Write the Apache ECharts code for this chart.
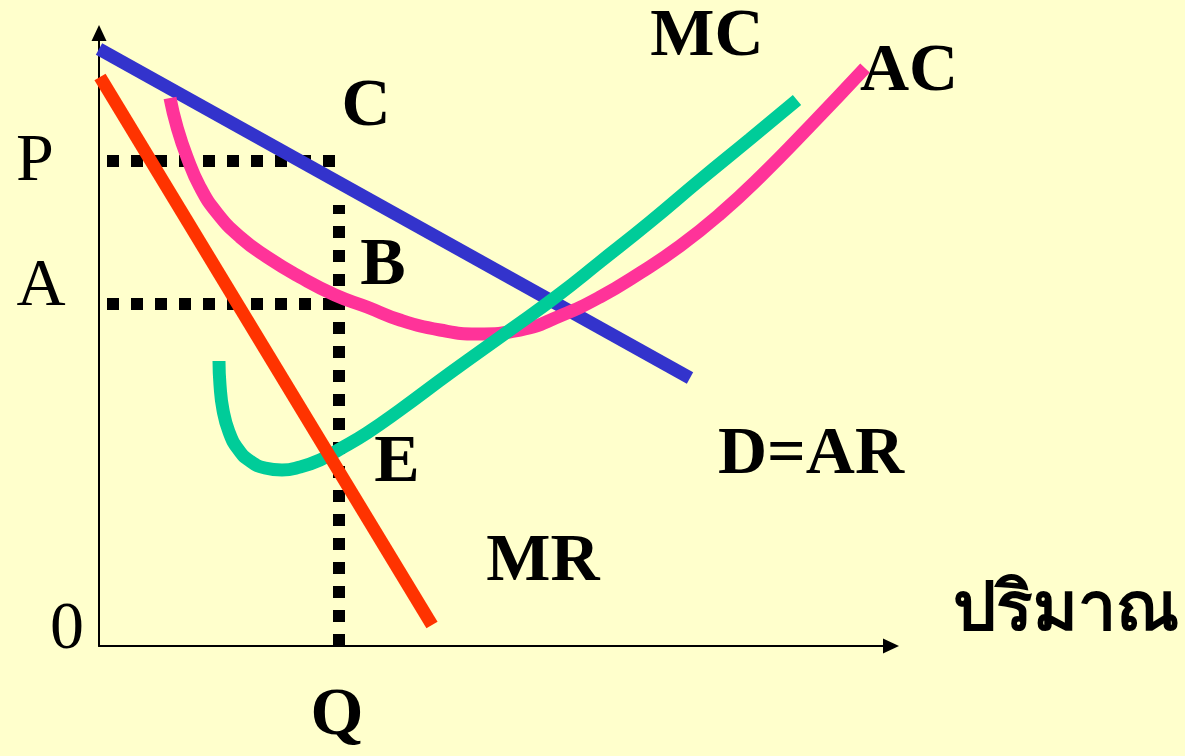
<!DOCTYPE html>
<html>
<head>
<meta charset="utf-8">
<title>Monopoly equilibrium</title>
<script src="https://cdn.jsdelivr.net/npm/echarts@6/dist/echarts.min.js"></script>
<style>
  html, body { margin: 0; padding: 0; background: #ffffcc; }
  #chart-container { width: 1185px; height: 756px; }
</style>
</head>
<body>
<div id="chart-container"></div>
<script>
// values are in axis units (origin = 0 at bottom-left corner of the axes)
const demandAR = [[0, 597], [591, 268]];
const marginalRevenue = [[1, 569], [333, 21]];
const averageCost = [
  [71, 548], [78, 519], [88, 489], [101, 459], [118, 433], [141, 409],
  [168, 389], [201, 369], [236, 351], [268, 339], [301, 326], [341, 316],
  [378, 312], [421, 316], [461, 330], [501, 349], [541, 373], [581, 400],
  [621, 432], [661, 469], [713, 522], [766, 578]
];
const marginalCost = [
  [120, 285], [121, 261], [124, 236], [130, 214], [139, 197], [151, 185],
  [166, 178], [183, 176], [201, 179], [221, 186], [241, 197], [268, 213],
  [301, 236], [351, 273], [411, 316], [458, 350], [501, 384], [551, 424],
  [601, 466], [651, 507], [698, 546]
];

const priceLevel = 485;   // P
const costLevel = 342;    // A
const outputLevel = 240;  // Q
const guideStart = 8;
const guideEnd = 238;
const guideTop = 441;

const tickLabels = ["P", "A", "0", "Q"];
const curveLabels = ["C", "B", "E", "MC", "AC", "D=AR", "MR", "ปริมาณ"];

const xMax = 792;
const yMax = 613;

const dom = document.getElementById("chart-container");
const myChart = echarts.init(dom, null, { renderer: "canvas" });

const serif = "'Liberation Serif', 'Times New Roman', serif";
const thai = "Kinnari, Norasi, 'Liberation Serif', serif";

function guide(data) {
  return {
    type: "line",
    data: data,
    symbol: "none",
    silent: true,
    lineStyle: { color: "#000", width: 12, type: [12, 12], cap: "butt" },
  };
}

function curve(name, data, color, smooth) {
  return {
    name: name,
    type: "line",
    data: data,
    symbol: "none",
    smooth: smooth,
    silent: true,
    lineStyle: { color: color, width: 13, cap: "butt" },
  };
}

function label(text, x, y, bold, family) {
  return {
    type: "text",
    x: x,
    y: y,
    silent: true,
    style: {
      text: text,
      fill: "#000",
      align: "center",
      verticalAlign: "middle",
      font: (bold ? "bold " : "") + "68px " + (family || serif),
    },
  };
}

const axisLine = {
  show: true,
  symbol: ["none", "triangle"],
  symbolSize: [15, 16],
  lineStyle: { color: "#000", width: 2 },
};

const option = {
  backgroundColor: "#ffffcc",
  animation: false,
  grid: { left: 99, right: 294, top: 33, bottom: 110 },
  xAxis: {
    type: "value",
    min: 0,
    max: xMax,
    splitLine: { show: false },
    axisTick: { show: false },
    axisLabel: { show: false },
    axisLine: axisLine,
  },
  yAxis: {
    type: "value",
    min: 0,
    max: yMax,
    splitLine: { show: false },
    axisTick: { show: false },
    axisLabel: { show: false },
    axisLine: axisLine,
  },
  series: [
    guide([[guideStart, priceLevel], [guideEnd, priceLevel]]),
    guide([[guideStart, costLevel], [guideEnd, costLevel]]),
    guide([[outputLevel, 0], [outputLevel, guideTop]]),
    curve("D=AR", demandAR, "#3333cc", false),
    curve("AC", averageCost, "#ff3399", 0.5),
    curve("MC", marginalCost, "#00cc99", 0.5),
    curve("MR", marginalRevenue, "#ff3300", false),
  ],
  graphic: [
    label(tickLabels[0], 35, 162, false),
    label(tickLabels[1], 41, 287, false),
    label(tickLabels[2], 67, 630, false),
    label(tickLabels[3], 337, 716, true),
    label(curveLabels[0], 366, 107, true),
    label(curveLabels[1], 383, 266, true),
    label(curveLabels[2], 397, 463, true),
    label(curveLabels[3], 707, 37, true),
    label(curveLabels[4], 909, 72, true),
    label(curveLabels[5], 811, 455, true),
    label(curveLabels[6], 543, 562, true),
    label(curveLabels[7], 1066, 612, true, thai),
  ],
};

myChart.setOption(option);
window.addEventListener("resize", myChart.resize);
</script>
</body>
</html>
